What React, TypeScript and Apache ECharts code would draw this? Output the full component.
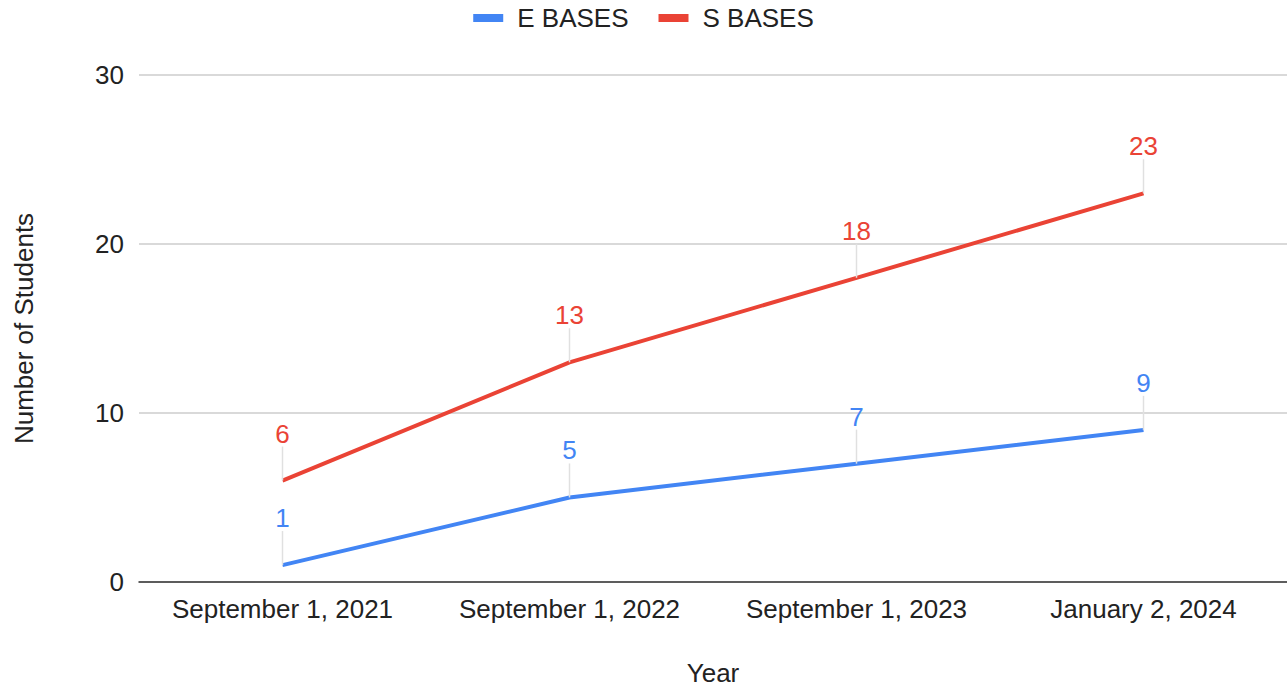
import React, { useEffect, useRef } from "react";
import * as echarts from "echarts";

const categories = ["September 1, 2021", "September 1, 2022", "September 1, 2023", "January 2, 2024"];
const eBases = [1, 5, 7, 9];
const sBases = [6, 13, 18, 23];
const yTicks = { min: 0, max: 30, interval: 10 };

export default function App() {
  const ref = useRef<HTMLDivElement>(null);
  useEffect(() => {
    const chart = echarts.init(ref.current!, null, { renderer: "svg" });
    const font = "Arial, 'Liberation Sans', sans-serif";
    const mkSeries = (name: string, data: number[], color: string) => ({
      name,
      type: "line",
      data,
      symbol: "circle",
      symbolSize: 0.1,
      showSymbol: true,
      lineStyle: { color, width: 4 },
      itemStyle: { color },
      label: {
        show: true,
        position: "top",
        distance: 0,
        color,
        fontSize: 26,
        fontFamily: font,
      },
      labelLayout: { dy: -34 },
      labelLine: { show: true, lineStyle: { color: "#e0e0e0", width: 1.5 } },
    });
    chart.setOption({
      animation: false,
      textStyle: { fontFamily: font },
      legend: {
        top: 0,
        left: "center",
        itemWidth: 30,
        itemHeight: 8,
        itemGap: 30,
        icon: "rect",
        textStyle: { fontSize: 26, color: "#222", fontFamily: font, padding: [0, 0, 0, 9] },
        data: ["E BASES", "S BASES"],
      },
      grid: { left: 139, top: 75, right: -4, bottom: 101, containLabel: false },
      xAxis: {
        type: "category",
        data: categories,
        boundaryGap: true,
        axisLine: { show: true, lineStyle: { color: "#333", width: 1.5 } },
        axisTick: { show: false },
        axisLabel: { interval: 0, fontSize: 26, color: "#222", margin: 14, fontFamily: font },
        name: "Year",
        nameLocation: "middle",
        nameGap: 78,
        nameTextStyle: { fontSize: 26, color: "#222", fontFamily: font },
      },
      yAxis: {
        type: "value",
        min: yTicks.min,
        max: yTicks.max,
        interval: yTicks.interval,
        axisLine: { show: false },
        axisTick: { show: false },
        splitLine: { lineStyle: { color: "#cccccc", width: 1.5 } },
        axisLabel: { fontSize: 26, color: "#222", margin: 15, fontFamily: font },
        name: "Number of Students",
        nameLocation: "middle",
        nameGap: 102,
        nameRotate: 90,
        nameTextStyle: { fontSize: 26, color: "#222", fontFamily: font },
      },
      series: [
        mkSeries("E BASES", eBases, "#4285F4"),
        mkSeries("S BASES", sBases, "#EA4335"),
      ],
    });
    return () => chart.dispose();
  }, []);
  return (
    <div
      ref={ref}
      style={{ position: "fixed", left: 0, top: 0, width: 1287, height: 691, background: "#fff" }}
    />
  );
}
